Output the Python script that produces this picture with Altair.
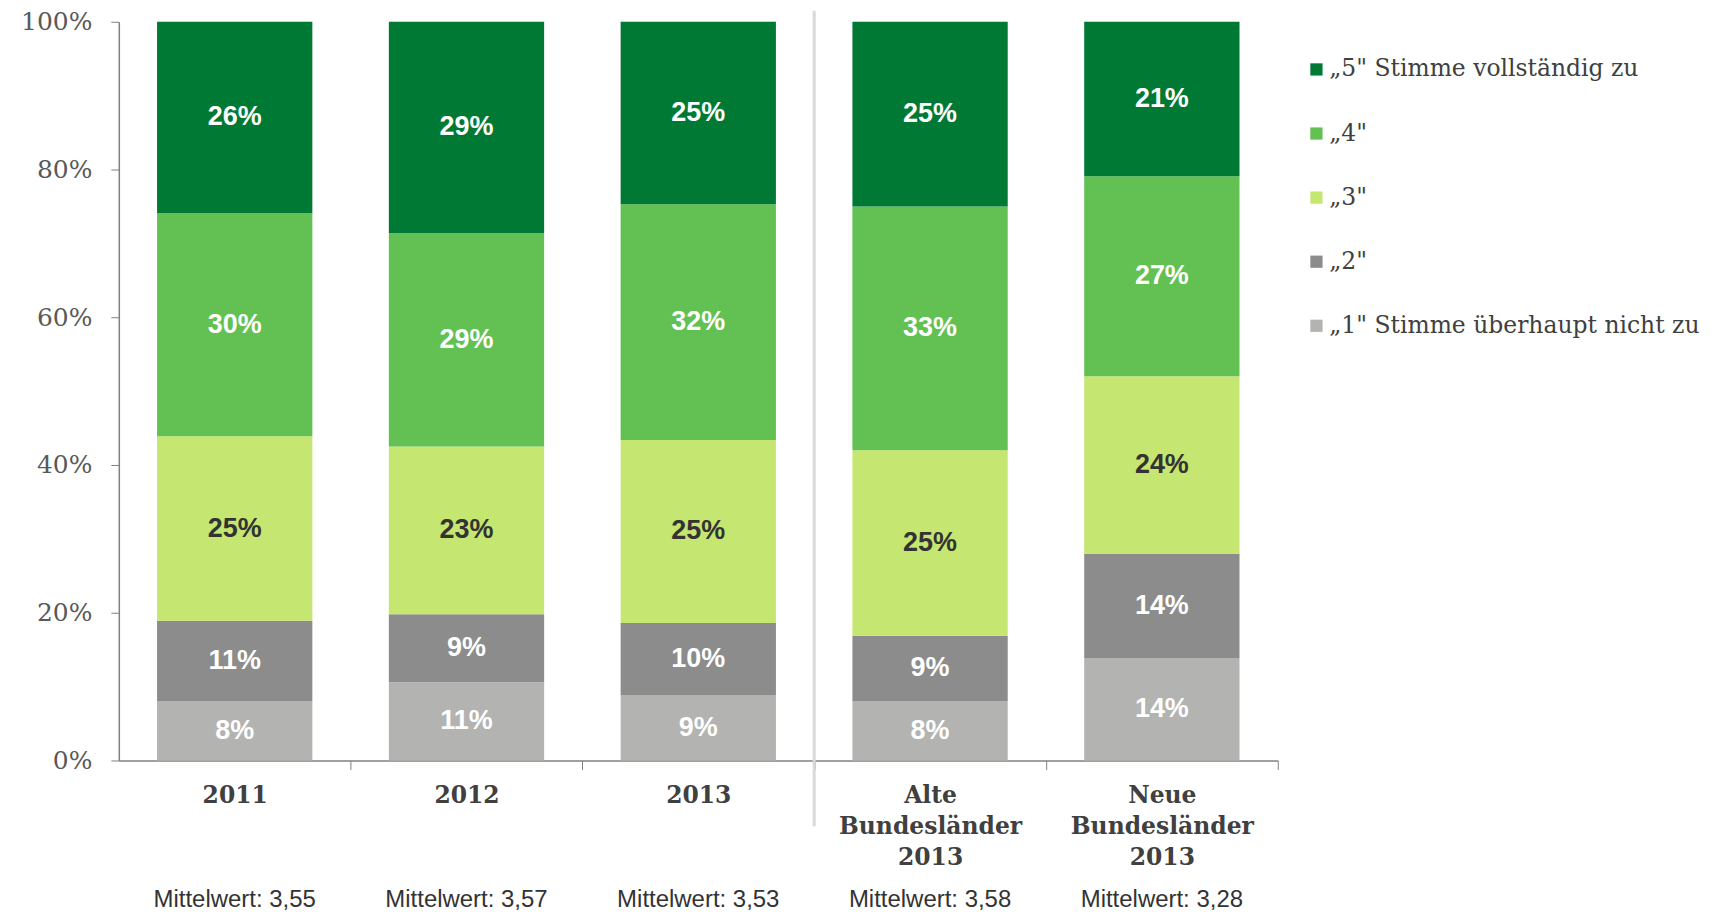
import altair as alt
import pandas as pd

groups = ["2011", "2012", "2013", "Alte Bundesländer 2013", "Neue Bundesländer 2013"]
cats = ["„1\" Stimme überhaupt nicht zu", "„2\"", "„3\"", "„4\"", "„5\" Stimme vollständig zu"]
cat_colors = ["#B3B3B1", "#8B8C8B", "#C5E670", "#62C152", "#007934"]
# values per category (1..5) per group, in percent
v1 = [8.0, 10.6, 8.8, 8.0, 13.8]
v2 = [10.9, 9.2, 9.8, 8.9, 14.2]
v3 = [25.0, 22.7, 24.8, 25.1, 24.0]
v4 = [30.2, 28.9, 31.9, 33.0, 27.1]
v5 = [25.9, 28.6, 24.7, 25.0, 20.9]
means = ["Mittelwert: 3,55", "Mittelwert: 3,57", "Mittelwert: 3,53", "Mittelwert: 3,58", "Mittelwert: 3,28"]

rows = []
for gi, g in enumerate(groups):
    for ci, vals in enumerate([v1, v2, v3, v4, v5]):
        rows.append({"group": g, "cat": cats[ci], "rank": ci + 1, "value": vals[gi]})
df = pd.DataFrame(rows)
mdf = pd.DataFrame({"group": groups, "mean": means})

W, H = 1161, 740
PAD_INNER = 0.33
STEP = W / len(groups)  # paddingOuter = paddingInner/2 -> step = W / n

xenc = alt.X("group:N", sort=groups, title=None,
             scale=alt.Scale(paddingInner=PAD_INNER, paddingOuter=PAD_INNER / 2),
             axis=alt.Axis(labelExpr="split(datum.label, ' ')", labelAngle=0,
                           labelFont="DejaVu Serif", labelFontWeight="bold", labelFontSize=23.5,
                           labelColor="#404040", labelLineHeight=31, labelPadding=14,
                           labelLimit=400,
                           tickOffset=STEP / 2, labelOffset=-STEP / 2,
                           tickSize=9, tickColor="#808080",
                           domainColor="#808080", domainWidth=1.5))

base = alt.Chart(df).transform_stack(
    stack="value", as_=["y0", "y1"], groupby=["group"], sort=[alt.SortField("rank")]
).transform_calculate(
    mid="(datum.y0 + datum.y1) / 2",
    label="format(datum.value, '.0f') + '%'"
)

bars = base.mark_bar().encode(
    x=xenc,
    y=alt.Y("y0:Q", title=None, scale=alt.Scale(domain=[0, 100]),
            axis=alt.Axis(values=[0, 20, 40, 60, 80, 100], labelExpr="datum.value + '%'",
                          labelFont="DejaVu Serif", labelFontSize=25, labelColor="#595959",
                          tickSize=8, tickColor="#808080", labelPadding=19,
                          domainColor="#808080", domainWidth=1.5, grid=False)),
    y2="y1:Q",
    color=alt.Color("cat:N", scale=alt.Scale(domain=cats[::-1], range=cat_colors[::-1]),
                    legend=alt.Legend(title=None, orient="none", legendX=1188, legendY=36,
                                      symbolType="square", symbolSize=150, symbolStrokeWidth=0,
                                      labelFont="DejaVu Serif", labelFontSize=23.5,
                                      labelColor="#404040", labelOffset=1, rowPadding=39.2,
                                      labelLimit=400)),
)

labels = base.mark_text(font="Liberation Sans", fontWeight="bold", fontSize=27).encode(
    x=alt.X("group:N", sort=groups),
    y=alt.Y("mid:Q"),
    text="label:N",
    color=alt.when(alt.datum.rank == 3).then(alt.value("#333333")).otherwise(alt.value("white")),
)

sep = alt.Chart(pd.DataFrame({"group": [groups[3]]})).mark_rule(color="#d9d9d9", strokeWidth=3).encode(
    x=alt.value(3 * STEP),
    y=alt.value(-11),
    y2=alt.value(H + 66),
)

mtext = alt.Chart(mdf).mark_text(font="Liberation Sans", fontSize=24, color="#333333").encode(
    x=alt.X("group:N", sort=groups),
    y=alt.value(H + 140),
    text="mean:N",
)

chart = alt.layer(bars, labels, sep, mtext).properties(
    width=W, height=H, padding={"left": 12, "top": 0, "right": 5, "bottom": 5}
).configure_view(stroke=None).configure_axis(labelOverlap=False)

chart.save("out.html", embed_options={"renderer": "svg", "actions": False})
